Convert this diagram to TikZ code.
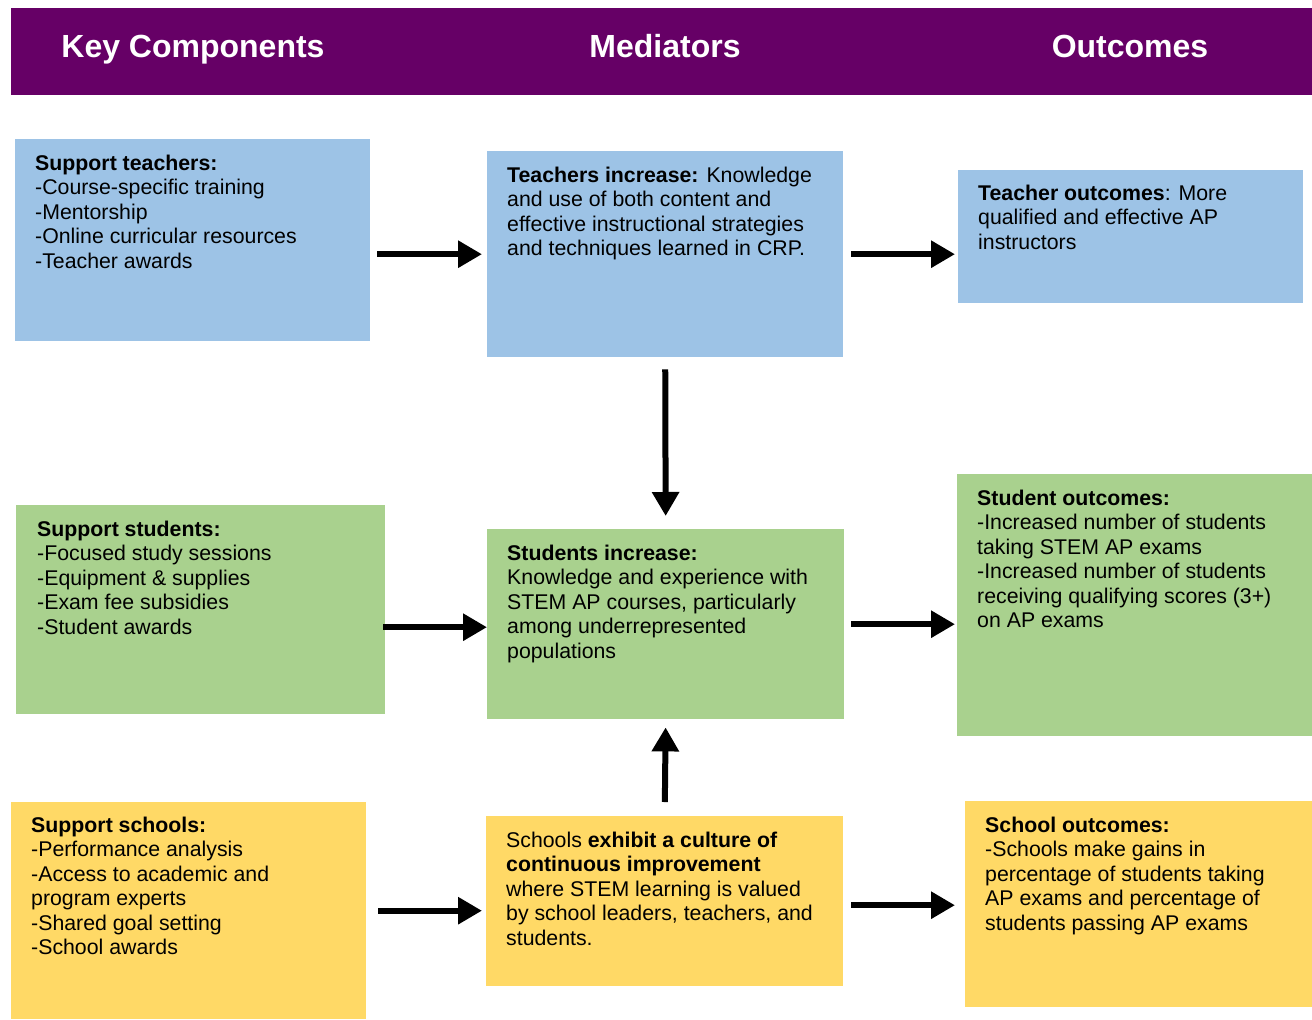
\documentclass[tikz,border=0pt]{standalone}
\usepackage{fontspec}
\setmainfont{Liberation Sans}
\usetikzlibrary{arrows.meta,calc}
\definecolor{hdrpurple}{HTML}{660066}
\definecolor{boxblue}{HTML}{9DC3E6}
\definecolor{boxgreen}{HTML}{A9D18E}
\definecolor{boxyellow}{HTML}{FFD966}
\tikzset{
  panel/.style={draw=none, inner sep=0pt, anchor=north west},
  txt/.style={inner sep=0pt, anchor=base west, font=\fontsize{21.3}{24.5}\selectfont},
  hdrtxt/.style={text=white, font=\fontsize{32}{36}\selectfont\bfseries, inner sep=0pt, anchor=base},
  arr/.style={line width=6pt, -{Triangle[length=24pt,width=26pt]}}
}
\newcommand{\tbox}[2]{\parbox[t]{#1}{\raggedright #2}}
\begin{document}
\begin{tikzpicture}[x=1pt,y=-1pt]
\useasboundingbox (0,0) rectangle (1312,1020);
% header
\node[panel, fill=hdrpurple, minimum width=1301pt, minimum height=87pt] (hdr) at (11,8) {};
\node[hdrtxt] (h1) at (193,57.7) {Key Components};
\node[hdrtxt] (h2) at (665,57.7) {Mediators};
\node[hdrtxt] (h3) at (1130,57.7) {Outcomes};
% boxes
\node[panel, fill=boxblue, minimum width=355pt, minimum height=202pt] (st) at (15,139) {};
\node[panel, fill=boxblue, minimum width=356pt, minimum height=206pt] (ti) at (487,151) {};
\node[panel, fill=boxblue, minimum width=345pt, minimum height=133pt] (to) at (958,170) {};
\node[panel, fill=boxgreen, minimum width=369pt, minimum height=209pt] (ss) at (16,505) {};
\node[panel, fill=boxgreen, minimum width=357pt, minimum height=190pt] (si) at (487,529) {};
\node[panel, fill=boxgreen, minimum width=355pt, minimum height=262pt] (so) at (957,474) {};
\node[panel, fill=boxyellow, minimum width=355pt, minimum height=217pt] (sc) at (11,802) {};
\node[panel, fill=boxyellow, minimum width=357pt, minimum height=170pt] (sx) at (486,816) {};
\node[panel, fill=boxyellow, minimum width=347pt, minimum height=206pt] (sco) at (965,801) {};
% texts
\node[txt] (st-t) at ($(st.north west)+(20,31)$) {\tbox{330pt}{\textbf{Support teachers:}\\-Course-specific training\\-Mentorship\\-Online curricular resources\\-Teacher awards}};
\node[txt] (ti-t) at ($(ti.north west)+(20,31)$) {\tbox{330pt}{\textbf{Teachers increase:} Knowledge\\and use of both content and\\effective instructional strategies\\and techniques learned in CRP.}};
\node[txt] (to-t) at ($(to.north west)+(20,30)$) {\tbox{320pt}{\textbf{Teacher outcomes}: More\\qualified and effective AP\\instructors}};
\node[txt] (ss-t) at ($(ss.north west)+(21,31)$) {\tbox{340pt}{\textbf{Support students:}\\-Focused study sessions\\-Equipment \& supplies\\-Exam fee subsidies\\-Student awards}};
\node[txt] (si-t) at ($(si.north west)+(20,31)$) {\tbox{330pt}{\textbf{Students increase:}\\Knowledge and experience with\\STEM AP courses, particularly\\among underrepresented\\populations}};
\node[txt] (so-t) at ($(so.north west)+(20,31)$) {\tbox{330pt}{\textbf{Student outcomes:}\\-Increased number of students\\taking STEM AP exams\\-Increased number of students\\receiving qualifying scores (3+)\\on AP exams}};
\node[txt] (sc-t) at ($(sc.north west)+(20,30)$) {\tbox{330pt}{\textbf{Support schools:}\\-Performance analysis\\-Access to academic and\\program experts\\-Shared goal setting\\-School awards}};
\node[txt] (sx-t) at ($(sx.north west)+(20,31)$) {\tbox{330pt}{Schools \textbf{exhibit a culture of}\\\textbf{continuous improvement}\\where STEM learning is valued\\by school leaders, teachers, and\\students.}};
\node[txt] (sco-t) at ($(sco.north west)+(20,31)$) {\tbox{320pt}{\textbf{School outcomes:}\\-Schools make gains in\\percentage of students taking\\AP exams and percentage of\\students passing AP exams}};
% arrows
\draw[arr, shorten <=7pt, shorten >=5pt] (st.east |- ti.west) -- (ti.west);
\draw[arr, shorten <=8pt, shorten >=3pt] (ti.east) -- (to.west |- ti.east);
\draw[arr, shorten <=12pt, shorten >=13pt] (ti.south) -- (si.north);
\draw[arr, shorten <=-2pt, shorten >=0pt] ([yshift=-3pt]ss.east |- si.west) -- ([yshift=-3pt]si.west);
\draw[arr, shorten <=7pt, shorten >=2pt] (si.east) -- (so.west |- si.east);
\draw[arr, shorten <=14pt, shorten >=8pt] (sx.north) -- (si.south);
\draw[arr, shorten <=12pt, shorten >=4pt] (sc.east) -- (sx.west |- sc.east);
\draw[arr, shorten <=8pt, shorten >=10pt] ([yshift=-4pt]sx.east) -- ([yshift=-4pt]sco.west |- sx.east);
\end{tikzpicture}
\end{document}
